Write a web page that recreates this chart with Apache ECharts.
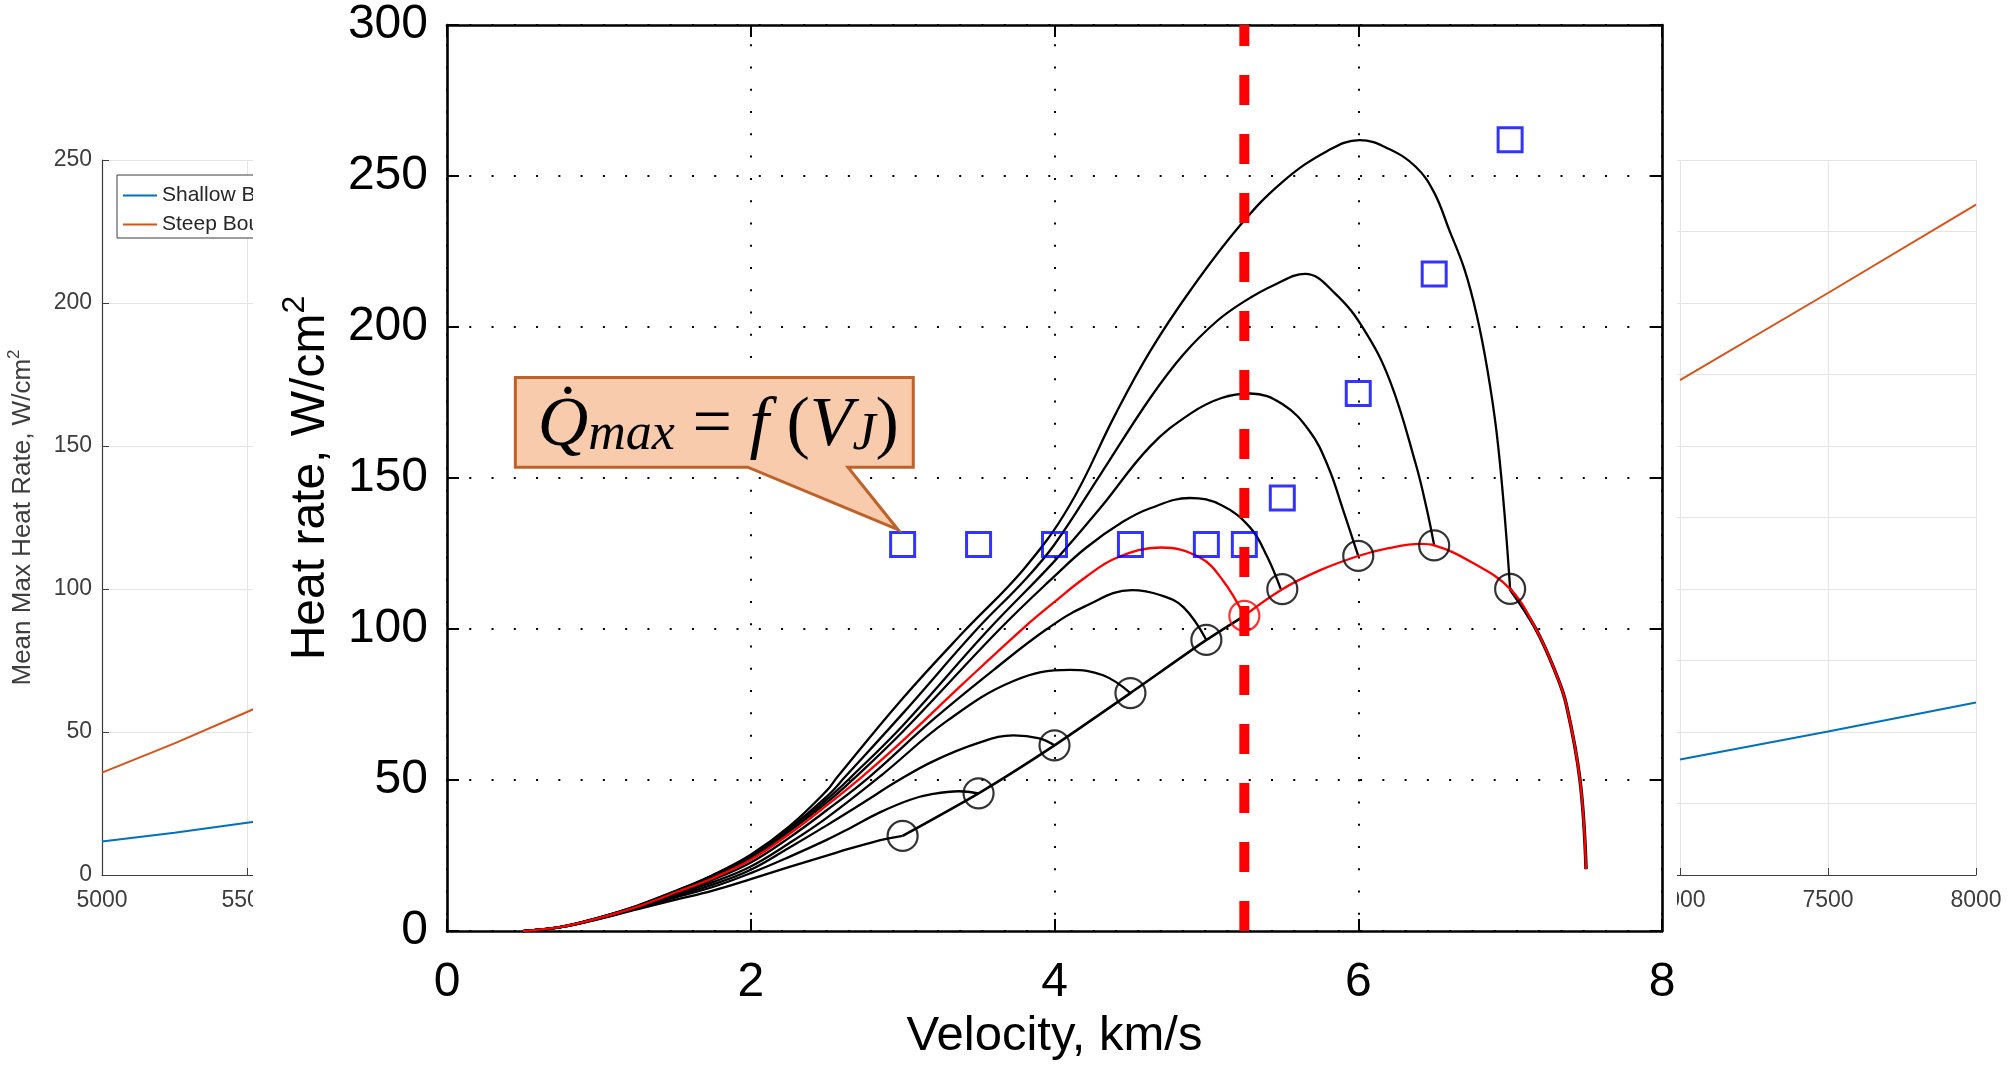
<!DOCTYPE html>
<html>
<head>
<meta charset="utf-8">
<script src="https://cdn.jsdelivr.net/npm/echarts@6/dist/echarts.min.js"></script>
<style>
  html, body { margin: 0; padding: 0; background: #fff; }
  #chart { width: 2015px; height: 1066px; }
</style>
</head>
<body>
<div id="chart"></div>
<script>
// ---- background slide plots (mostly covered by the main figure) ----
const bgLeftSpeed = [5000, 5250, 5500, 6000];
const bgLeftShallow = [11.7, 14.8, 18.3, 25];
const bgLeftSteep = [35.8, 46, 57, 79];
const bgRightSpeed = [7000, 7500, 8000];
const bgRightShallow = [40.4, 50.2, 60.3];
const bgRightSteep = [173, 203.5, 234.4];

// ---- main figure: heat rate trajectories [velocity km/s, W/cm2] ----
const traj30 = [[0.5,0],[0.75,1.3],[1,4.0],[1.25,7.2],[1.5,10.3],[1.75,13.4],[2,17.2],[2.25,21.2],[2.5,25],[2.65,27.3],[2.8,29.4],[2.9,30.6],[3,31.5]];
const traj35 = [[0.5,0],[0.75,1.3],[1,4.1],[1.25,7.4],[1.5,11.1],[1.75,14.6],[2,19.2],[2.25,24.5],[2.5,30.2],[2.65,34],[2.85,39.3],[3.05,43.5],[3.2,45.4],[3.37,46.3],[3.5,45.6]];
const traj40 = [[0.5,0],[0.75,1.3],[1,4.1],[1.25,7.5],[1.5,11.6],[1.75,15.4],[2,20.3],[2.25,27.5],[2.5,35],[2.75,42.8],[2.96,49.5],[3.2,56.2],[3.5,62.3],[3.73,64.8],[3.9,63.8],[4,61.5]];
const traj45 = [[0.5,0],[0.75,1.3],[1,4.2],[1.25,7.6],[1.5,12],[1.75,16.2],[2,21.4],[2.25,29],[2.5,37.5],[2.87,52],[3.29,69.5],[3.73,82.8],[4.1,86.5],[4.32,84.7],[4.5,78.8]];
const traj50 = [[0.5,0],[0.75,1.4],[1,4.3],[1.25,7.8],[1.5,12.4],[1.75,17],[2,22.7],[2.25,30.8],[2.5,40],[2.78,51],[3.2,70],[3.6,86.5],[3.95,100],[4.2,107.5],[4.51,112.9],[4.7,111.2],[4.85,107.2],[5,96.4]];
const traj525 = [[0.5,0],[0.75,1.4],[1,4.3],[1.25,8],[1.5,12.7],[1.75,17.5],[2,23.6],[2.25,32],[2.5,41.6],[2.73,51],[3,63],[3.4,82],[3.81,101],[4,109],[4.2,117],[4.41,123.6],[4.7,127],[4.96,123.6],[5.11,116],[5.25,104.4]];
const traj55 = [[0.5,0],[0.75,1.4],[1,4.4],[1.25,8.1],[1.5,12.9],[1.75,17.9],[2,24.2],[2.25,32.8],[2.5,42.5],[2.69,51],[3,66],[3.64,100],[4,117.5],[4.21,127],[4.45,135.5],[4.63,140],[4.89,143.4],[5.1,141],[5.29,133.5],[5.4,124],[5.49,113.2]];
const traj60 = [[0.5,0],[0.75,1.4],[1,4.4],[1.25,8.2],[1.5,13],[1.75,18.2],[2,24.6],[2.25,33.3],[2.5,43.5],[2.66,51],[3,68],[3.56,99.5],[4,122.5],[4.3,140],[4.63,160.5],[4.9,171.5],[5.1,176.5],[5.29,178],[5.5,174.5],[5.68,165.5],[5.8,154],[5.9,139.5],[6,124.2]];
const traj65 = [[0.5,0],[0.75,1.4],[1,4.5],[1.25,8.3],[1.5,13.1],[1.75,18.4],[2,24.9],[2.25,33.8],[2.5,44.5],[2.62,51],[3,72],[3.49,100],[3.8,116],[4,128],[4.3,151],[4.63,176.5],[4.85,191],[5.07,202],[5.25,208.5],[5.45,214],[5.65,217.6],[5.85,211],[6.04,199],[6.21,182],[6.38,154.4],[6.45,140],[6.5,127.7]];
const traj70 = [[0.5,0],[0.75,1.4],[1,4.5],[1.25,8.4],[1.5,13.2],[1.75,18.6],[2,25.3],[2.25,34.5],[2.5,46.5],[2.57,51],[3,77],[3.4,99],[3.8,120],[4.1,141],[4.4,171],[4.63,192],[4.9,212.5],[5.22,233.5],[5.5,248],[5.8,258.4],[6.01,261.9],[6.2,259],[6.38,253],[6.5,244.5],[6.6,232],[6.7,219],[6.78,204],[6.85,186],[6.91,165.5],[6.96,140],[7,113.3]];
const envelopeLow = [[3,31.5],[3.5,45.6],[4,61.5],[4.5,78.8],[5,96.4],[5.25,104.4]];
const envelopeHigh = [[5.25,104.4],[5.5,113.2],[5.75,119.5],[6,124.2],[6.2,126.8],[6.41,128.2],[6.5,127.7],[6.75,122],[7,113.3],[7.17,100],[7.3,85.5],[7.37,75],[7.46,50],[7.5,20.5]];

const endSpeed = [3, 3.5, 4, 4.5, 5, 5.5, 6, 6.5, 7];
const endHeat = [31.5, 45.6, 61.5, 78.8, 96.4, 113.2, 124.2, 127.7, 113.3];
const chosenEnd = [5.25, 104.4];
const peakSpeed = [3, 3.5, 4, 4.5, 5, 5.25, 5.5, 6, 6.5, 7];
const peakHeat = [128, 128, 128, 128, 128, 128, 143.4, 178, 217.6, 262];
const limitSpeed = 5.25;

// callout box in data units of the main axes
const calloutBox = { v0: 0.45, v1: 3.07, q0: 153.6, q1: 183.3, base0: 1.98, base1: 2.64, tipV: 2.97, tipQ: 132.9 };

const sans = 'Liberation Sans';
const bgInk = '#3d3d3d';
const bgGrid = '#e4e4e4';
const blue = '#0072bd';
const orange = '#d95319';

const chart = echarts.init(document.getElementById('chart'));

function bgX(grid) {
  return {
    gridIndex: grid, type: 'value', min: 5000, max: 8000, interval: 500,
    axisLine: { onZero: false, lineStyle: { color: bgInk, width: 1.2 } },
    axisTick: { inside: true, length: 7, lineStyle: { color: bgInk } },
    axisLabel: { color: bgInk, fontFamily: sans, fontSize: 23, margin: 14, formatter: v => String(v) },
    splitLine: { show: true, lineStyle: { color: bgGrid, width: 1 } }
  };
}
function bgY(grid, step) {
  return {
    gridIndex: grid, type: 'value', min: 0, max: 250, interval: step,
    axisLine: { show: true, onZero: false, lineStyle: { color: bgInk, width: 1.2 } },
    axisTick: { show: true, inside: true, length: 7, lineStyle: { color: bgInk } },
    axisLabel: { color: bgInk, fontFamily: sans, fontSize: 23, margin: 10 },
    splitLine: { show: true, lineStyle: { color: bgGrid, width: 1 } }
  };
}

const mainAxisLine = { show: true, onZero: false, lineStyle: { color: '#000', width: 2.6 } };
const mainTick = { show: true, inside: true, length: 12, lineStyle: { color: '#000', width: 2 } };
const dots = [2, 20.27];

const yLeftBg = bgY(0, 50);
yLeftBg.name = '{a|Mean Max Heat Rate, W/cm}{s|2}';
yLeftBg.nameLocation = 'middle';
yLeftBg.nameGap = 66;
yLeftBg.nameTextStyle = {
  rich: {
    a: { fontFamily: sans, fontSize: 26, color: bgInk, lineHeight: 30, verticalAlign: 'bottom' },
    s: { fontFamily: sans, fontSize: 17, color: bgInk, lineHeight: 17, verticalAlign: 'top' }
  }
};

function traj(data, color, z, width) {
  return {
    type: 'line', xAxisIndex: 2, yAxisIndex: 2, data: data, z: z,
    smooth: 0.4, showSymbol: false, symbol: 'none', silent: true,
    lineStyle: { color: color, width: width || 2.3 }
  };
}

const option = {
  animation: false,
  backgroundColor: '#fff',
  grid: [
    { left: 102, right: 1043, top: 160, bottom: 191 },
    { left: 1088, right: 39, top: 160, bottom: 191 },
    { left: 447, right: 353, top: 25, bottom: 131 }
  ],
  legend: {
    data: ['Shallow Boundary', 'Steep Boundary'],
    left: 117, top: 175, orient: 'vertical', itemGap: 8, icon: 'rect',
    itemWidth: 34, itemHeight: 2, padding: [10, 8, 3, 6],
    backgroundColor: '#fff', borderColor: bgInk, borderWidth: 1,
    textStyle: { fontFamily: sans, fontSize: 21, color: '#262626' }
  },
  xAxis: [
    bgX(0),
    bgX(1),
    {
      gridIndex: 2, type: 'value', min: 0, max: 8, interval: 2, z: 10,
      axisLine: mainAxisLine, axisTick: mainTick,
      axisLabel: { color: '#000', fontFamily: sans, fontSize: 48, margin: 28 },
      splitLine: { show: true, lineStyle: { color: '#000', width: 2, type: dots, dashOffset: 3 } },
      name: 'Velocity, km/s', nameLocation: 'middle', nameGap: 80,
      nameTextStyle: { color: '#000', fontFamily: sans, fontSize: 49 }
    },
    {
      gridIndex: 2, type: 'value', min: 0, max: 8, interval: 2, z: 10, position: 'top',
      axisLine: mainAxisLine, axisTick: mainTick,
      axisLabel: { show: false }, splitLine: { show: false }
    }
  ],
  yAxis: [
    yLeftBg,
    bgY(1, 25),
    {
      gridIndex: 2, type: 'value', min: 0, max: 300, interval: 50, z: 10,
      axisLine: mainAxisLine, axisTick: mainTick,
      axisLabel: { color: '#000', fontFamily: sans, fontSize: 48, margin: 19 },
      splitLine: { show: true, lineStyle: { color: '#000', width: 2, type: dots } },
      name: '{a|Heat rate, W/cm}{s|2}', nameLocation: 'middle', nameGap: 112,
      nameTextStyle: {
        rich: {
          a: { fontFamily: sans, fontSize: 48, color: '#000', lineHeight: 56, verticalAlign: 'bottom' },
          s: { fontFamily: sans, fontSize: 32, color: '#000', lineHeight: 32, verticalAlign: 'top' }
        }
      }
    },
    {
      gridIndex: 2, type: 'value', min: 0, max: 300, interval: 50, z: 10, position: 'right',
      axisLine: mainAxisLine, axisTick: mainTick,
      axisLabel: { show: false }, splitLine: { show: false }
    }
  ],
  graphic: [
    { id: 'cover', type: 'rect', z: 5, silent: true,
      shape: { x: 253, y: 0, width: 1424, height: 1066 }, style: { fill: '#fff' } }
  ],
  series: [
    { name: 'Shallow Boundary', type: 'line', xAxisIndex: 0, yAxisIndex: 0, symbol: 'none', z: 2,
      data: bgLeftSpeed.map((v, i) => [v, bgLeftShallow[i]]), lineStyle: { color: blue, width: 2 }, itemStyle: { color: blue } },
    { name: 'Steep Boundary', type: 'line', xAxisIndex: 0, yAxisIndex: 0, symbol: 'none', z: 2,
      data: bgLeftSpeed.map((v, i) => [v, bgLeftSteep[i]]), lineStyle: { color: orange, width: 2 }, itemStyle: { color: orange } },
    { name: 'Shallow Boundary', type: 'line', xAxisIndex: 1, yAxisIndex: 1, symbol: 'none', z: 2,
      data: bgRightSpeed.map((v, i) => [v, bgRightShallow[i]]), lineStyle: { color: blue, width: 2 }, itemStyle: { color: blue } },
    { name: 'Steep Boundary', type: 'line', xAxisIndex: 1, yAxisIndex: 1, symbol: 'none', z: 2,
      data: bgRightSpeed.map((v, i) => [v, bgRightSteep[i]]), lineStyle: { color: orange, width: 2 }, itemStyle: { color: orange } },

    traj(traj30, '#000', 20), traj(traj35, '#000', 20), traj(traj40, '#000', 20),
    traj(traj45, '#000', 20), traj(traj50, '#000', 20), traj(traj55, '#000', 20),
    traj(traj60, '#000', 20), traj(traj65, '#000', 20), traj(traj70, '#000', 20),
    traj(envelopeHigh.filter(p => p[0] >= 7), '#000', 20, 3.5),
    { type: 'line', xAxisIndex: 2, yAxisIndex: 2, data: envelopeLow, z: 21, smooth: 0.2,
      symbol: 'none', silent: true, lineStyle: { color: '#000', width: 2.6 } },
    traj(traj525, '#ff0000', 22),
    traj(envelopeHigh, '#ff0000', 22),
    { type: 'scatter', xAxisIndex: 2, yAxisIndex: 2, z: 23, symbol: 'circle', symbolSize: 30, silent: true,
      data: endSpeed.map((v, i) => [v, endHeat[i]]),
      itemStyle: { color: 'rgba(0,0,0,0)', borderColor: '#000', borderWidth: 2.2 } },
    { type: 'scatter', xAxisIndex: 2, yAxisIndex: 2, z: 23, symbol: 'circle', symbolSize: 30, silent: true,
      data: [chosenEnd],
      itemStyle: { color: 'rgba(0,0,0,0)', borderColor: '#ff0000', borderWidth: 2.2 } },
    { type: 'scatter', xAxisIndex: 2, yAxisIndex: 2, z: 24, symbol: 'rect', symbolSize: 24, silent: true,
      data: peakSpeed.map((v, i) => [v, peakHeat[i]]),
      itemStyle: { color: 'rgba(0,0,0,0)', borderColor: '#0000ff', borderWidth: 3 } },
    { type: 'line', xAxisIndex: 2, yAxisIndex: 2, z: 25, symbol: 'none', silent: true,
      data: [[limitSpeed, 0], [limitSpeed, 300]],
      lineStyle: { color: '#ff0000', width: 10, type: [30, 29], cap: 'butt' } }
  ]
};

chart.setOption(option);

// speech-bubble annotation anchored on the main axes
const px = (v, q) => chart.convertToPixel({ gridIndex: 2 }, [v, q]);
const c = calloutBox;
const bubble = [
  px(c.v0, c.q1), px(c.v1, c.q1), px(c.v1, c.q0), px(c.base1, c.q0),
  px(c.tipV, c.tipQ), px(c.base0, c.q0), px(c.v0, c.q0)
];
const mid = px((c.v0 + c.v1) / 2, (c.q0 + c.q1) / 2);
const serif = 'Liberation Serif';
const big = { fontFamily: serif, fontSize: 70, lineHeight: 78, verticalAlign: 'bottom', fill: '#000' };
chart.setOption({
  graphic: [
    { id: 'bubble', type: 'polygon', z: 30, silent: true,
      shape: { points: bubble },
      style: { fill: '#f8cbad', stroke: '#bf6229', lineWidth: 3, lineJoin: 'miter' } },
    { id: 'formula', type: 'text', z: 31, silent: true,
      x: mid[0] + 4, y: mid[1],
      style: {
        text: '{q|Q\u0307}{s|max}{o| = }{i|f}{o| (}{i|V}{s|J}{o|)}',
        align: 'center', verticalAlign: 'middle',
        rich: {
          q: Object.assign({ fontStyle: 'italic' }, big),
          i: Object.assign({ fontStyle: 'italic' }, big),
          o: Object.assign({}, big),
          s: { fontFamily: serif, fontStyle: 'italic', fontSize: 52, lineHeight: 54, verticalAlign: 'bottom', fill: '#000' }
        }
      } }
  ]
});
window.addEventListener('resize', () => chart.resize());
</script>
</body>
</html>
